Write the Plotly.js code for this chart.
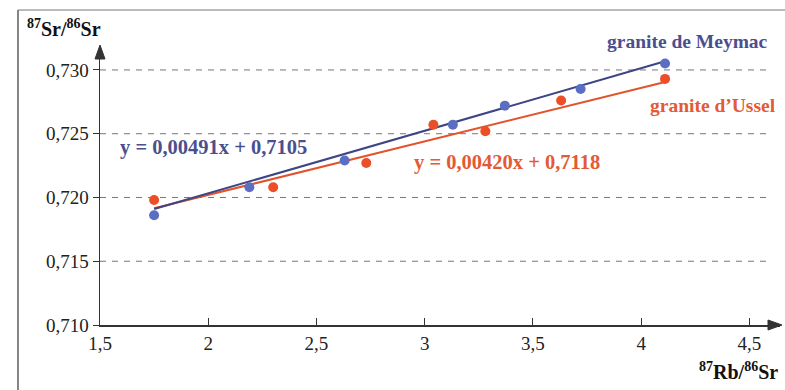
<!DOCTYPE html>
<html>
<head>
<meta charset="utf-8">
<script src="https://cdn.plot.ly/plotly-3.0.1.min.js"></script>
<style>html,body{margin:0;padding:0;background:#fff;}#chart{width:785px;height:390px;}</style>
</head>
<body>
<div id="chart"></div>
<script>
// Data
const meymacX = [1.75, 2.19, 2.63, 3.13, 3.37, 3.72, 4.11];
const meymacY = [0.7186, 0.7208, 0.7229, 0.7257, 0.7272, 0.7285, 0.7305];
const usselX  = [1.75, 2.30, 2.73, 3.04, 3.28, 3.63, 4.11];
const usselY  = [0.7198, 0.7208, 0.7227, 0.7257, 0.7252, 0.7276, 0.7293];
const meymacFit = {slope: 0.00491, intercept: 0.7105, label: 'y = 0,00491x + 0,7105'};
const usselFit  = {slope: 0.00420, intercept: 0.7118, label: 'y = 0,00420x + 0,7118'};
const yTicks = [0.710, 0.715, 0.720, 0.725, 0.730];
const xTicks = [1.5, 2, 2.5, 3, 3.5, 4, 4.5];

const BLUE_LINE = '#3d4585', BLUE_MK = '#5b6fc2', BLUE_TXT = '#4a4f8e';
const RED_LINE = '#e2532c', RED_MK = '#ec4f27', RED_TXT = '#e35a34';
const SERIF = 'Liberation Serif, Times New Roman, serif';

function fitLine(xs, fit) {
  const x0 = Math.min(...xs), x1 = Math.max(...xs);
  return {x: [x0, x1], y: [fit.slope * x0 + fit.intercept, fit.slope * x1 + fit.intercept]};
}
const mf = fitLine(meymacX, meymacFit), uf = fitLine(usselX, usselFit);

const traces = [
  {x: uf.x, y: uf.y, mode: 'lines', line: {color: RED_LINE, width: 2}, hoverinfo: 'skip'},
  {x: mf.x, y: mf.y, mode: 'lines', line: {color: BLUE_LINE, width: 2}, hoverinfo: 'skip'},
  {x: usselX, y: usselY, mode: 'markers', marker: {color: RED_MK, size: 10}, name: "granite d'Ussel"},
  {x: meymacX, y: meymacY, mode: 'markers', marker: {color: BLUE_MK, size: 10}, name: 'granite de Meymac'}
];

const gridShapes = yTicks.slice(1).map(v => ({
  type: 'line', xref: 'x', yref: 'y', x0: 1.5, x1: 4.585, y0: v, y1: v,
  line: {color: '#777', width: 1, dash: '6px,6px'}, layer: 'below'
}));

const layout = {
  width: 785, height: 390,
  margin: {l: 100, r: 5, t: 47, b: 65},
  paper_bgcolor: '#fff', plot_bgcolor: 'rgba(0,0,0,0)',
  separators: ', ',
  showlegend: false,
  font: {family: SERIF, size: 19, color: '#222'},
  xaxis: {
    range: [1.5, 4.641], tickvals: xTicks, ticks: 'inside', ticklen: 7, tickcolor: '#333',
    showline: true, linecolor: '#333', linewidth: 2, showgrid: false, zeroline: false,
    tickfont: {family: SERIF, size: 19, color: '#222'}, fixedrange: true
  },
  yaxis: {
    range: [0.710, 0.7318], tickvals: yTicks, tickformat: '.3f', ticks: 'outside', ticklen: 6, tickcolor: '#333',
    showline: true, linecolor: '#333', linewidth: 1.5, showgrid: false, zeroline: false,
    tickfont: {family: SERIF, size: 19, color: '#222'}, fixedrange: true
  },
  shapes: gridShapes.concat([
    {type: 'line', xref: 'paper', yref: 'paper', x0: -0.1206, x1: -0.1206, y0: 1.133, y1: -0.25, line: {color: '#333', width: 1.2}},
    {type: 'line', xref: 'paper', yref: 'paper', x0: -0.1206, x1: 1.01, y0: 1.133, y1: 1.133, line: {color: '#777', width: 1}},
    {type: 'path', xref: 'paper', yref: 'paper', xsizemode: 'pixel', ysizemode: 'pixel', xanchor: 1.0, yanchor: 0,
     path: 'M 2 0 L -12 -5 L -12 5 Z', fillcolor: '#333', line: {color: '#333', width: 1}},
    {type: 'path', xref: 'paper', yref: 'paper', xsizemode: 'pixel', ysizemode: 'pixel', xanchor: 0, yanchor: 1.0,
     path: 'M 0 2 L -5 -12 L 5 -12 Z', fillcolor: '#333', line: {color: '#333', width: 1}}
  ]),
  annotations: [
    {xref: 'paper', yref: 'paper', x: -0.11, y: 1.118, xanchor: 'left', yanchor: 'top', showarrow: false,
     text: '<b><sup>87</sup>Sr/<sup>86</sup>Sr</b>', font: {family: SERIF, size: 20, color: '#111'}},
    {xref: 'paper', yref: 'paper', x: 1.0, y: -0.115, xanchor: 'right', yanchor: 'top', showarrow: false,
     text: '<b><sup>87</sup>Rb/<sup>86</sup>Sr</b>', font: {family: SERIF, size: 20, color: '#111'}},
    {xref: 'paper', yref: 'paper', x: 0.985, y: 1.018, xanchor: 'right', yanchor: 'middle', showarrow: false,
     text: '<b>granite de Meymac</b>', font: {family: SERIF, size: 19.5, color: BLUE_TXT}},
    {xref: 'paper', yref: 'paper', x: 0.997, y: 0.79, xanchor: 'right', yanchor: 'middle', showarrow: false,
     text: '<b>granite d\u2019Ussel</b>', font: {family: SERIF, size: 19.5, color: RED_TXT}},
    {xref: 'paper', yref: 'paper', x: 0.0265, y: 0.640, xanchor: 'left', yanchor: 'middle', showarrow: false,
     text: '<b>' + meymacFit.label + '</b>', font: {family: SERIF, size: 20.5, color: BLUE_TXT}},
    {xref: 'paper', yref: 'paper', x: 0.459, y: 0.583, xanchor: 'left', yanchor: 'middle', showarrow: false,
     text: '<b>' + usselFit.label + '</b>', font: {family: SERIF, size: 20.5, color: RED_TXT}}
  ]
};

Plotly.newPlot('chart', traces, layout, {staticPlot: true, displayModeBar: false});
</script>
</body>
</html>
